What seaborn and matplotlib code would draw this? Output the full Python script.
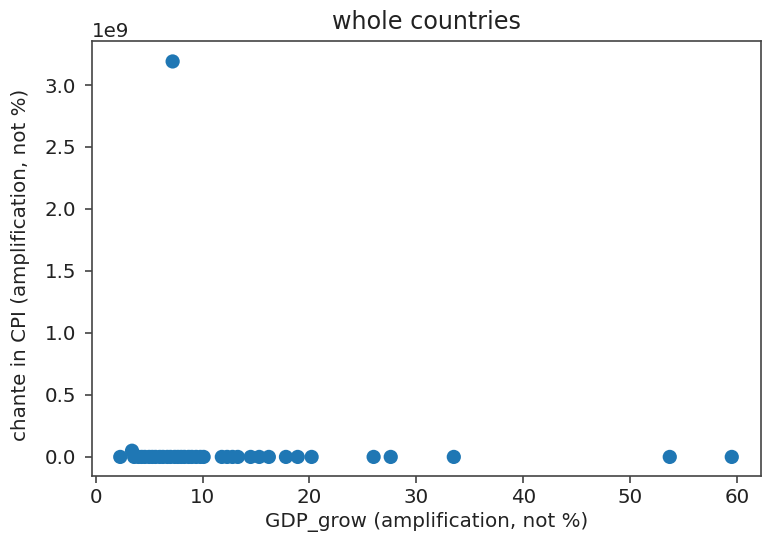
import matplotlib
matplotlib.use("Agg")
import matplotlib.pyplot as plt
import seaborn as sns
import pandas as pd

gdp_grow = [2.3, 3.4, 3.6, 4.0, 4.3, 4.6, 5.0, 5.3, 5.6, 6.0, 6.3, 6.7, 7.0, 7.2, 7.4,
            7.7, 8.0, 8.3, 8.7, 9.0, 9.4, 9.8, 10.1,
            11.8, 12.3, 12.8, 13.3, 14.5, 15.3, 16.2,
            17.8, 18.9, 20.2, 26.0, 27.6, 33.5, 53.7, 59.5]
cpi_change = [0.0, 0.05e9, 0.0, 0.0, 0.0, 0.0, 0.0, 0.0, 0.0, 0.0, 0.0, 0.0, 0.0, 3.19e9, 0.0,
              0.0, 0.0, 0.0, 0.0, 0.0, 0.0, 0.0, 0.0,
              0.0, 0.0, 0.0, 0.0, 0.0, 0.0, 0.0,
              0.0, 0.0, 0.0, 0.0, 0.0, 0.0, 0.0, 0.0]

df = pd.DataFrame({"gdp": gdp_grow, "cpi": cpi_change})

sns.set_style("ticks")
plt.rcParams["font.family"] = ["DejaVu Sans"]
fig = plt.figure(figsize=(7.66, 5.54), dpi=100)
ax = fig.add_axes([0.120, 0.141, 0.873, 0.785])
sns.scatterplot(data=df, x="gdp", y="cpi", ax=ax, s=105, color="#1f77b4",
                edgecolor="none", linewidth=0)
ax.set_title("whole countries", fontsize=17.2, pad=8.6, color="#222222")
ax.set_xlabel("GDP_grow (amplification, not %)", fontsize=14.3, color="#222222")
ax.set_ylabel("chante in CPI (amplification, not %)", fontsize=14.3, color="#222222")
ax.yaxis.set_label_coords(-0.092, 0.485)
ax.tick_params(labelsize=14.3, length=5, width=1.1, color="#333333", labelcolor="#222222")
ax.tick_params(axis="y", pad=6.5)
ax.yaxis.get_offset_text().set_fontsize(14.3)
ax.set_xlim(-0.35, 62.2)
ax.set_ylim(-0.153e9, 3.355e9)
ax.set_xticks([0, 10, 20, 30, 40, 50, 60])
ax.set_yticks([0, 0.5e9, 1.0e9, 1.5e9, 2.0e9, 2.5e9, 3.0e9])
for s in ax.spines.values():
    s.set_visible(True)
    s.set_color("#444444")
    s.set_linewidth(1.2)
fig.savefig("out.png", dpi=100)
